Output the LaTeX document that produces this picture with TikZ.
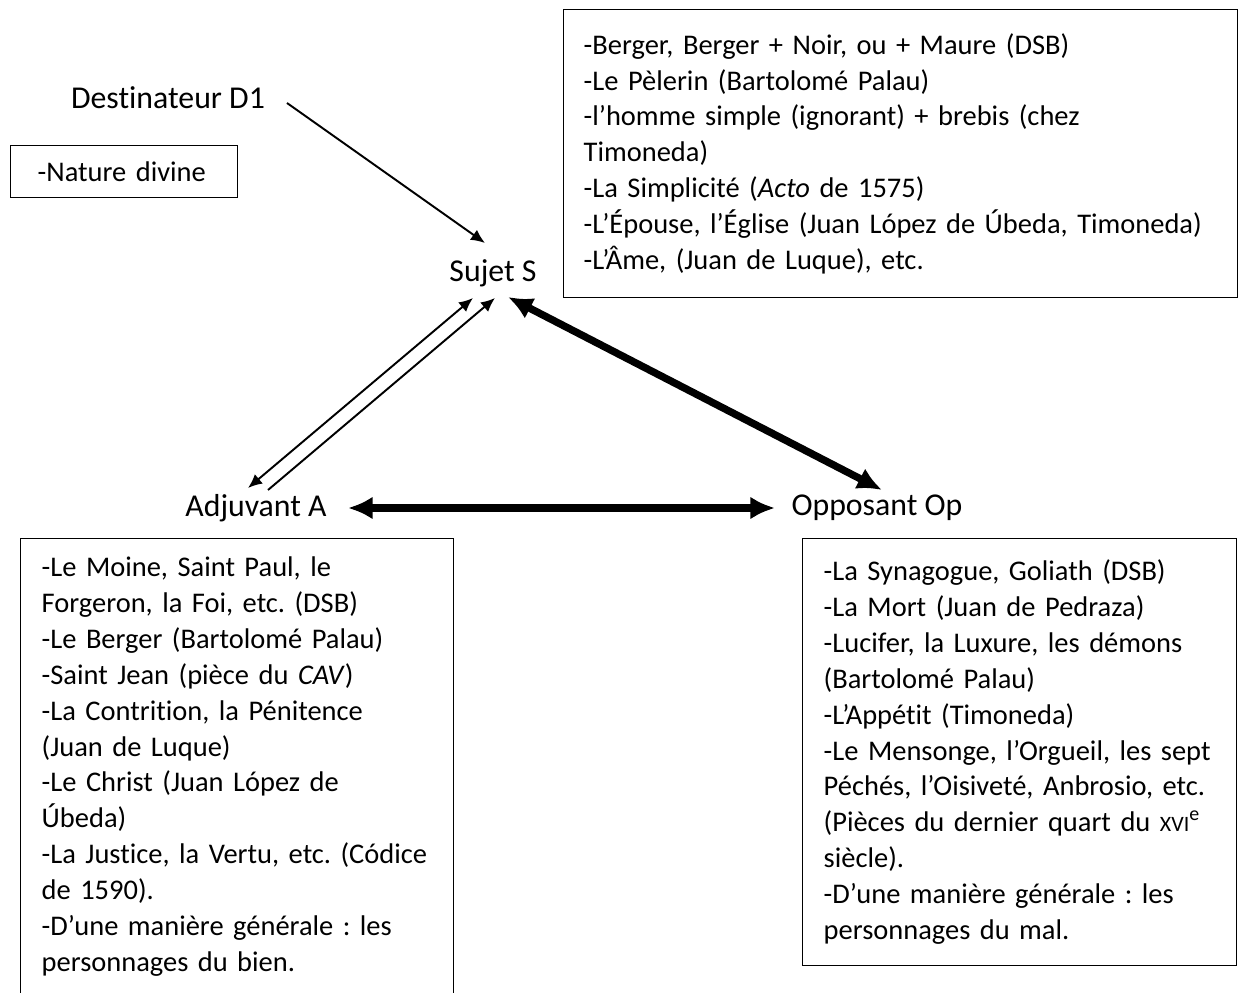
\documentclass[tikz,border=0pt]{standalone}
\usepackage{fontspec}
\setmainfont{Carlito}[Ligatures=CommonOff]
\frenchspacing
\usetikzlibrary{calc,arrows.meta}
\newcommand{\siecle}{{\fontsize{12.5}{12.5}\selectfont XVI}\textsuperscript{e}}
\newcommand{\liendecale}[5]{\draw[#5] ([shift={#3}]#1) -- ([shift={#4}]#2)}

\begin{document}
\begin{tikzpicture}[x=0.02cm, y=-0.02cm, font=\fontsize{16.2}{20.4}\selectfont,
    etiquette/.style={font=\fontsize{18.1}{21}\selectfont},
    cadre/.style={draw, line width=0.8pt, anchor=north west, align=left},
    fin/.style={line width=1.1pt, -{Latex[length=8pt,width=7pt]}},
    findouble/.style={line width=1.1pt, {Latex[length=8pt,width=7pt]}-{Latex[length=8pt,width=7pt]}},
    epais/.style={line width=4.2pt, {Latex[length=14pt,width=13pt]}-{Latex[length=14pt,width=13pt]}}]
  \useasboundingbox (0,0) rectangle (1242,993);

  \node[etiquette] (dest) at (168,98) {Destinateur D1};
  \node[cadre, inner xsep=0.54cm, text width=3.46cm, minimum height=1.04cm] (nature) at (10,145) {-Nature divine};
  \node[etiquette] (sujet) at (493,273) {Sujet S};
  \node[etiquette] (adj) at (256,508) {Adjuvant A};
  \node[etiquette] (opp) at (877,508) {Opposant Op};

  \node[cadre, inner xsep=0.4cm, text width=12.68cm, minimum height=5.76cm] (haut) at (563,9) {%
    -Berger, Berger + Noir, ou + Maure (DSB)\\
    -Le Pèlerin (Bartolomé Palau)\\
    -l’homme simple (ignorant) + brebis (chez\\
    Timoneda)\\
    -La Simplicité (\emph{Acto} de 1575)\\
    -L’Épouse, l’Église (Juan López de Úbeda, Timoneda)\\
    -L’Âme, (Juan de Luque), etc.};

  \node[cadre, inner xsep=0.42cm, inner ysep=10.5pt, text width=7.82cm] (gauche) at (20,538) {%
    -Le Moine, Saint Paul, le\\
    Forgeron, la Foi, etc. (DSB)\\
    -Le Berger (Bartolomé Palau)\\
    -Saint Jean (pièce du \emph{CAV})\\
    -La Contrition, la Pénitence\\
    (Juan de Luque)\\
    -Le Christ (Juan López de\\
    Úbeda)\\
    -La Justice, la Vertu, etc. (Códice\\
    de 1590).\\
    -D’une manière générale : les\\
    personnages du bien.\rule[-40pt]{0pt}{0pt}};

  \node[cadre, inner xsep=0.42cm, text width=7.84cm, minimum height=8.54cm] (droite) at (802,538) {%
    -La Synagogue, Goliath (DSB)\\
    -La Mort (Juan de Pedraza)\\
    -Lucifer, la Luxure, les démons\\
    (Bartolomé Palau)\\
    -L’Appétit (Timoneda)\\
    -Le Mensonge, l’Orgueil, les sept\\
    Péchés, l’Oisiveté, Anbrosio, etc.\\
    (Pièces du dernier quart du \siecle\\
    siècle).\\
    -D’une manière générale : les\\
    personnages du mal.};

  % liens
  \liendecale{dest.center}{sujet.center}{(119,5)}{(-8,-30)}{fin};
  \liendecale{sujet.center}{adj.center}{(-20,25)}{(-8,-20)}{findouble};
  \liendecale{adj.center}{sujet.center}{(12,-18)}{(2,25)}{fin};
  \liendecale{sujet.center}{opp.center}{(15,24)}{(5,-18)}{epais};
  \liendecale{adj.center}{opp.center}{(92,0)}{(-102,0)}{epais};
\end{tikzpicture}
\end{document}
